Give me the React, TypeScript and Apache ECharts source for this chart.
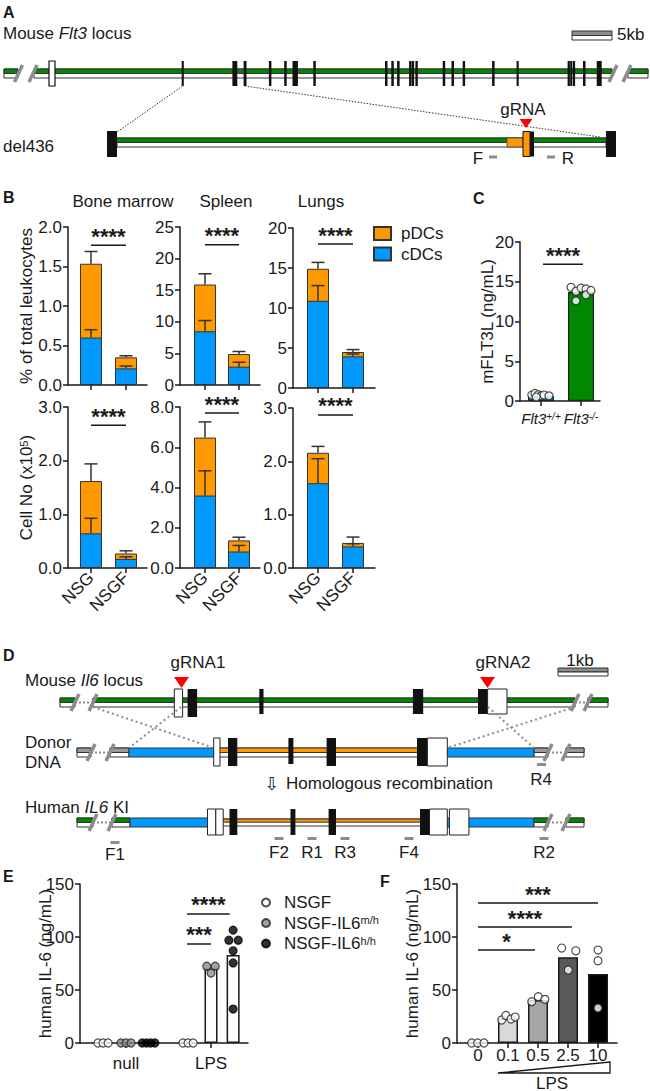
import React, { useEffect, useRef } from 'react';
import * as echarts from 'echarts';

const FONT = '"Liberation Sans", Arial, Helvetica, sans-serif';
const FS = 17;
const INK = '#1a1a1a';
const ORANGE = '#FF9900';
const BLUE = '#0099FF';
const GREEN = '#008800';
const RED = '#FF0000';
const GRAY = '#8c8c8c';

// ---------------- Panel B data ----------------
const bGroups = ['NSG', 'NSGF'];
const bTissues = ['Bone marrow', 'Spleen', 'Lungs'];
// % of total leukocytes (cDCs at bottom, pDCs stacked on top)
const pctBmCdc = [0.6, 0.21];
const pctBmPdc = [0.935, 0.14];
const pctBmCdcErr = [0.1, 0.03];
const pctBmTotErr = [0.155, 0.02];
const pctSpCdc = [8.5, 2.9];
const pctSpPdc = [7.4, 2.0];
const pctSpCdcErr = [1.7, 0.7];
const pctSpTotErr = [1.7, 0.4];
const pctLuCdc = [10.9, 3.95];
const pctLuPdc = [4.0, 0.55];
const pctLuCdcErr = [1.9, 0.3];
const pctLuTotErr = [0.8, 0.3];
// Cell number (x10^5)
const numBmCdc = [0.646, 0.17];
const numBmPdc = [0.974, 0.1];
const numBmCdcErr = [0.28, 0.04];
const numBmTotErr = [0.32, 0.05];
const numSpCdc = [3.6, 0.82];
const numSpPdc = [2.88, 0.55];
const numSpCdcErr = [1.23, 0.3];
const numSpTotErr = [0.78, 0.16];
const numLuCdc = [1.59, 0.405];
const numLuPdc = [0.57, 0.065];
const numLuCdcErr = [0.46, 0.05];
const numLuTotErr = [0.12, 0.11];
const pctYMax = [2.0, 25, 20];
const pctYStep = [0.5, 5, 5];
const pctYDec = [1, 0, 0];
const numYMax = [3.0, 8.0, 3.0];
const numYStep = [1.0, 2.0, 1.0];
const pctSigY = [1.77, 22.2, 18.0];
const numSigY = [2.66, 7.7, 2.87];
const bSigText = ['****'];

// ---------------- Panel C data ----------------
const cGroups = ['{i|Flt3}{s|+/+}', '{i|Flt3}{s|-/-}'];
const cMeans = [0.6, 13.7];
const cWtPts = [[-0.23, 0.75], [-0.15, 0.95], [-0.07, 0.8], [0.0, 0.65], [0.075, 0.75], [0.2, 0.65], [-0.12, 0.5]];
const cKoPts = [[0.75, 14.3], [0.875, 13.8], [0.875, 12.6], [1.0, 14.2], [1.125, 14.1], [1.125, 13.35], [1.25, 13.9]];
const cSigLine = [[0.05, 1.05, 17.2]];
const cSigText = ['****'];

// ---------------- Panel E data ----------------
const eConditions = ['null', 'LPS'];
const eGenotypes = ['NSGF', 'NSGF-IL6m/h', 'NSGF-IL6h/h'];
const eMeansNull = [0, 0, 0];
const eMeansLps = [0, 70, 83];
const eNsgfPts = [[-0.33, 0], [-0.27, 0], [-0.21, 0], [0.67, 0], [0.73, 0], [0.79, 0]];
const eMhPts = [[-0.06, 0], [0, 0], [0.06, 0], [0.95, 72.5], [1.05, 72.5], [1.0, 66]];
const eHhPts = [[0.19, 0], [0.24, 0], [0.29, 0], [0.34, 0], [1.26, 106.5], [1.21, 97], [1.32, 97], [1.26, 87], [1.26, 75.5], [1.26, 32]];
const eSigLines = [[0.718, 1.22, 121.7], [0.718, 1.0, 93.4]];
const eSigText = ['****', '***'];

// ---------------- Panel F data ----------------
const fDoses = ['0', '0.1', '0.5', '2.5', '10'];
const fMeans = [0, 23, 40.5, 81, 65];
const fPts = [[-0.21, 0], [-0.01, 0], [0.2, 0], [0.79, 21.7], [0.93, 26], [1.1, 22.6], [1.24, 24.5], [1.79, 39], [2.01, 43.7], [2.23, 41.2], [2.79, 89.6], [3.26, 87], [3.01, 68.9], [4.0, 87.7], [4.0, 77.6], [4.0, 33]];
const fSigLines = [[0, 4, 132], [0, 3.13, 109.4], [0, 1.9, 87.7]];
const fSigText = ['***', '****', '*'];

// ---------------- Styles / layout ----------------
const fBarColors = ['#ffffff', '#d9d9d9', '#a6a6a6', '#595959', '#000000'];
const eDodge = [-0.28, 0, 0.26];
const bLeft = [68, 180, 293];
const bWidth = [79, 80, 82];
const bXMin = [-0.657, -0.735, -0.714];
const bXMax = [1.6, 1.618, 1.629];
const bTopRow = [227, 227, 228];
const bTopH = [158, 158, 160];
const bBotRow = [407, 407, 408];
const bBotH = [161, 161, 160];

const AXL = { color: INK, width: 1.5 };
const labelStyle = { fontSize: FS, color: INK, fontFamily: FONT };

function xAxisV(gi: number, min: number, max: number, ticks: number[], labels: string[] | null, extra: any = {}) {
  return {
    type: 'value', gridIndex: gi, min, max,
    axisLine: { show: true, onZero: false, lineStyle: AXL },
    axisTick: { show: true, length: 5, customValues: ticks, lineStyle: AXL },
    axisLabel: labels
      ? { show: true, hideOverlap: false, customValues: ticks, formatter: (v: number) => labels[Math.round(v)] ?? '', ...labelStyle, margin: 6, ...extra }
      : { show: false },
    splitLine: { show: false },
  };
}

function yAxisV(gi: number, max: number, step: number, dec: number, name?: string, nameGap?: number) {
  return {
    type: 'value', gridIndex: gi, min: 0, max, interval: step,
    axisLine: { show: true, onZero: false, lineStyle: AXL },
    axisTick: { show: true, length: 5, lineStyle: AXL },
    axisLabel: { ...labelStyle, margin: 6, hideOverlap: false, formatter: (v: number) => v.toFixed(dec) },
    splitLine: { show: false },
    name: name || '', nameLocation: 'middle', nameGap: nameGap || 30, nameMoveOverlap: false,
    nameTextStyle: { ...labelStyle, rich: { sup: { fontSize: 11, fontFamily: FONT, color: INK, verticalAlign: 'top', lineHeight: 11 } } },
  };
}

const errRender = (cap: number) => (params: any, api: any) => {
  const x = api.value(0), y = api.value(1), e = api.value(2);
  const p0 = api.coord([x, y]);
  const p1 = api.coord([x, y + e]);
  const st = { stroke: '#333', lineWidth: 1.5 };
  return {
    type: 'group',
    children: [
      { type: 'line', shape: { x1: p0[0], y1: p0[1], x2: p1[0], y2: p1[1] }, style: st },
      { type: 'line', shape: { x1: p1[0] - cap / 2, y1: p1[1], x2: p1[0] + cap / 2, y2: p1[1] }, style: st },
    ],
  };
};

const sigRender = (texts: string[]) => (params: any, api: any) => {
  const x1 = api.value(0), x2 = api.value(1), y = api.value(2);
  const a = api.coord([x1, y]);
  const b = api.coord([x2, y]);
  return {
    type: 'group',
    children: [
      { type: 'line', shape: { x1: a[0], y1: a[1], x2: b[0], y2: b[1] }, style: { stroke: INK, lineWidth: 1.5 } },
      {
        type: 'text', x: (a[0] + b[0]) / 2, y: a[1] - 9,
        style: { text: texts[params.dataIndex] || texts[0], fill: INK, font: `bold 22px ${FONT}`, align: 'center', verticalAlign: 'middle', textAlign: 'center', textVerticalAlign: 'middle' },
      },
    ],
  };
};

// ---------------- graphic helpers ----------------
function txt(x: number, y: number, text: string, o: any = {}) {
  return { type: 'text', x, y, style: { text, fill: INK, font: `${FS}px ${FONT}`, align: 'left', verticalAlign: 'middle', ...o } };
}
function rect(x: number, y: number, w: number, h: number, fill: string, stroke?: string, lw = 1) {
  return { type: 'rect', shape: { x, y, width: w, height: h }, style: { fill, stroke: stroke || null, lineWidth: lw } };
}
function ln(x1: number, y1: number, x2: number, y2: number, stroke: string, lw: number, dash?: number[]) {
  return { type: 'line', shape: { x1, y1, x2, y2 }, style: { stroke, lineWidth: lw, lineDash: dash || null } };
}
function tri(cx: number, y: number, w: number, h: number) {
  return { type: 'polygon', shape: { points: [[cx - w / 2, y], [cx + w / 2, y], [cx, y + h]] }, style: { fill: RED } };
}
function strand(els: any[], x1: number, x2: number, y: number, h: number, top: string, frac = 0.5) {
  els.push(rect(x1, y, x2 - x1, h, '#ffffff', '#333'));
  els.push(rect(x1, y, x2 - x1, h * frac, top, '#333'));
}
function slash(els: any[], x: number, y: number, h: number) {
  els.push(ln(x - 4, y + h + 4, x + 4, y - 4, GRAY, 3.5));
}
function italicRich() {
  return { i: { fontStyle: 'italic', fontSize: FS, fontFamily: FONT, fill: INK } };
}

function buildGraphics() {
  const g: any[] = [];
  // ---- Panel A ----
  g.push(txt(3, 12, 'A', { font: `bold 16px ${FONT}` }));
  g.push(txt(3, 33, 'Mouse {i|Flt3} locus', { rich: italicRich() }));
  g.push(rect(572, 31, 40, 4.5, GRAY, '#333'));
  g.push(rect(572, 35.5, 40, 4.5, '#ffffff', '#333'));
  g.push(txt(617, 34, '5kb'));
  strand(g, 4, 18, 69, 9, GREEN);
  strand(g, 34, 612, 69, 9, GREEN);
  strand(g, 628, 648, 69, 9, GREEN);
  g.push(rect(49, 61, 6, 25, '#ffffff', '#111', 1.2));
  const aExons = [[181.7, 2.1], [232.4, 4.9], [243.6, 2.9], [268.9, 2.5], [284.2, 2.5], [292.5, 5.4], [313.3, 2.5], [385, 2.5], [391.3, 2.5], [397.1, 2.5], [409.1, 2.3], [411.6, 2.5], [415.4, 2.4], [442.7, 2.5], [451.5, 2.5], [462.7, 2.4], [492.1, 2.5], [516.6, 2.1], [567.6, 2.3], [570.2, 1.8], [572.6, 2.5], [583, 2.5], [596.7, 5]];
  aExons.forEach(([x, w]) => g.push(rect(x, 61, w, 25, '#111')));
  slash(g, 18.5, 69, 9); slash(g, 33, 69, 9); slash(g, 613, 69, 9); slash(g, 627, 69, 9);
  g.push(ln(182.6, 86, 117, 132, '#333', 1, [1.5, 1.5]));
  g.push(ln(244.8, 86, 600, 137, '#333', 1, [1.5, 1.5]));
  strand(g, 117, 606, 138, 9, GREEN);
  g.push(rect(507, 138, 16, 9, ORANGE, '#444', 0.8));
  g.push(rect(107, 131, 10, 26, '#111'));
  g.push(rect(606, 131, 10, 26, '#111'));
  g.push(rect(523, 131.5, 7, 25, ORANGE, '#111', 1));
  g.push(rect(530, 131.5, 4, 25, '#111'));
  g.push(tri(526, 119, 13, 9));
  g.push(txt(523, 109, 'gRNA', { align: 'center' }));
  g.push(txt(3, 146, 'del436'));
  g.push(txt(478, 158, 'F', { align: 'center' }));
  g.push(rect(489, 155.5, 8, 3, GRAY));
  g.push(rect(547, 155.5, 8, 3, GRAY));
  g.push(txt(568, 158, 'R', { align: 'center' }));

  // ---- Panel B / C titles ----
  g.push(txt(3, 197, 'B', { font: `bold 16px ${FONT}` }));
  g.push(txt(123, 201, bTissues[0], { align: 'center' }));
  g.push(txt(226, 201, bTissues[1], { align: 'center' }));
  g.push(txt(321, 201, bTissues[2], { align: 'center' }));
  g.push(txt(473, 198, 'C', { font: `bold 16px ${FONT}` }));

  // ---- Panel D ----
  g.push(txt(3, 655, 'D', { font: `bold 16px ${FONT}` }));
  g.push(txt(198, 662, 'gRNA1', { align: 'center' }));
  g.push(txt(503, 662, 'gRNA2', { align: 'center' }));
  g.push(txt(580, 660, '1kb', { align: 'center' }));
  g.push(rect(558, 668, 50, 4, GRAY, '#333'));
  g.push(rect(558, 672, 50, 4, '#ffffff', '#333'));
  g.push(txt(25, 680, 'Mouse {i|Il6} locus', { rich: italicRich() }));
  // top locus
  strand(g, 60, 75, 698, 9, GREEN);
  strand(g, 93, 575, 698, 9, GREEN);
  strand(g, 588, 608, 698, 9, GREEN);
  g.push(ln(75, 702.5, 93, 702.5, GRAY, 2, [2, 2]));
  g.push(ln(575, 702.5, 588, 702.5, GRAY, 2, [2, 2]));
  g.push(rect(174.3, 689, 8.3, 28, '#ffffff', '#222'));
  g.push(rect(187.6, 689, 9.5, 28, '#111'));
  g.push(rect(259.3, 689, 4.2, 25, '#111'));
  g.push(rect(412.9, 689, 10.3, 25, '#111'));
  g.push(rect(478, 689, 9.6, 25, '#111'));
  g.push(rect(487.6, 689, 19.4, 25, '#ffffff', '#222'));
  slash(g, 75, 698, 9); slash(g, 93, 698, 9); slash(g, 575, 698, 9); slash(g, 588, 698, 9);
  g.push(tri(181.5, 677, 15, 11));
  g.push(tri(487.5, 677, 15, 11));
  // donor
  g.push(txt(25, 742, 'Donor'));
  g.push(txt(25, 762, 'DNA'));
  strand(g, 77, 91, 748, 9, '#9a9a9a');
  strand(g, 110, 129, 748, 9, '#9a9a9a');
  g.push(ln(91, 752.5, 110, 752.5, GRAY, 2, [2, 2]));
  g.push(rect(129, 748, 85, 9, BLUE, '#333'));
  strand(g, 214, 447, 748, 9, ORANGE);
  g.push(rect(447, 748, 87, 9, BLUE, '#333'));
  strand(g, 534, 548, 748, 9, '#9a9a9a');
  strand(g, 566, 584, 748, 9, '#9a9a9a');
  g.push(ln(548, 752.5, 566, 752.5, GRAY, 2, [2, 2]));
  g.push(rect(213.7, 738, 6.3, 28, '#ffffff', '#222'));
  g.push(rect(228, 738, 9.3, 28, '#111'));
  g.push(rect(288.4, 738, 5, 26, '#111'));
  g.push(rect(326.6, 738, 9.4, 28, '#111'));
  g.push(rect(417, 738, 10.4, 28, '#111'));
  g.push(rect(427.4, 738, 19.9, 28, '#ffffff', '#222'));
  slash(g, 91, 748, 9); slash(g, 110, 748, 9); slash(g, 548, 748, 9); slash(g, 566, 748, 9);
  // crossover lines
  g.push(ln(93, 707, 214, 748, GRAY, 2, [2, 3]));
  g.push(ln(181, 707, 129, 748, GRAY, 2, [2, 3]));
  g.push(ln(488, 707, 534, 748, GRAY, 2, [2, 3]));
  g.push(ln(575, 707, 447, 748, GRAY, 2, [2, 3]));
  g.push(rect(537, 763, 9, 3, GRAY));
  g.push(txt(541, 779, 'R4', { align: 'center' }));
  g.push(txt(272, 783, '⇩', { align: 'center', font: `18px "DejaVu Sans", sans-serif` }));
  g.push(txt(286, 783, 'Homologous recombination'));
  // KI
  g.push(txt(25, 807, 'Human {i|IL6} KI', { rich: italicRich() }));
  strand(g, 77, 93, 818, 9, GREEN);
  strand(g, 112, 130, 818, 9, GREEN);
  g.push(ln(93, 822.5, 112, 822.5, GRAY, 2, [2, 2]));
  g.push(rect(130, 818, 87, 9, BLUE, '#333'));
  strand(g, 217, 447, 819, 7, ORANGE, 0.45);
  g.push(rect(447, 818, 87, 9, BLUE, '#333'));
  strand(g, 534, 548, 818, 9, GREEN);
  strand(g, 566, 584, 818, 9, GREEN);
  g.push(ln(548, 822.5, 566, 822.5, GRAY, 2, [2, 2]));
  g.push(rect(207.5, 809, 8.3, 26, '#ffffff', '#222'));
  g.push(rect(215.8, 809, 7.4, 26, '#ffffff', '#222'));
  g.push(rect(229.5, 809, 7.8, 26, '#111'));
  g.push(rect(290.5, 809, 4.9, 26, '#111'));
  g.push(rect(328.6, 809, 7.4, 26, '#111'));
  g.push(rect(420, 809, 9.5, 26, '#111'));
  g.push(rect(429.5, 809, 17.8, 26, '#ffffff', '#222'));
  g.push(rect(449.4, 809, 19.5, 26, '#ffffff', '#222'));
  slash(g, 93, 818, 9); slash(g, 112, 818, 9); slash(g, 548, 818, 9); slash(g, 566, 818, 9);
  const primers: [string, number, number, number][] = [['F1', 115, 841, 854], ['F2', 279, 837, 852], ['R1', 312, 837, 852], ['R3', 345, 837, 852], ['F4', 409, 837, 852], ['R2', 544, 837, 852]];
  primers.forEach(([t, x, yd, yt]) => {
    g.push(rect(x - 4.5, yd, 9, 3, GRAY));
    g.push(txt(x, yt, t, { align: 'center' }));
  });

  // ---- Panel E / F labels ----
  g.push(txt(3, 876, 'E', { font: `bold 16px ${FONT}` }));
  g.push(txt(380, 881, 'F', { font: `bold 16px ${FONT}` }));
  g.push({ type: 'polygon', shape: { points: [[498, 1073], [610, 1062], [610, 1073]] }, style: { fill: '#ffffff', stroke: INK, lineWidth: 1.3 } });
  g.push(txt(552, 1083, 'LPS', { align: 'center' }));
  return g;
}

function buildOption() {
  const grids: any[] = [];
  const xAxes: any[] = [];
  const yAxes: any[] = [];
  const series: any[] = [];

  const pctCdc = [pctBmCdc, pctSpCdc, pctLuCdc];
  const pctPdc = [pctBmPdc, pctSpPdc, pctLuPdc];
  const pctCdcErr = [pctBmCdcErr, pctSpCdcErr, pctLuCdcErr];
  const pctTotErr = [pctBmTotErr, pctSpTotErr, pctLuTotErr];
  const numCdc = [numBmCdc, numSpCdc, numLuCdc];
  const numPdc = [numBmPdc, numSpPdc, numLuPdc];
  const numCdcErr = [numBmCdcErr, numSpCdcErr, numLuCdcErr];
  const numTotErr = [numBmTotErr, numSpTotErr, numLuTotErr];

  const addB = (gi: number, t: number, top: number, h: number, cdc: number[], pdc: number[], cErr: number[], tErr: number[], yMax: number, yStep: number, dec: number, sigY: number, name: string | undefined, showLabels: boolean) => {
    grids.push({ left: bLeft[t], top, width: bWidth[t], height: h, containLabel: false, outerBoundsMode: 'none' });
    xAxes.push(xAxisV(gi, bXMin[t], bXMax[t], [0, 1], showLabels ? bGroups : null, { rotate: 45, margin: 7 }));
    yAxes.push(yAxisV(gi, yMax, yStep, dec, name, 33));
    const bar = { color: BLUE, borderColor: '#333', borderWidth: 1 };
    // pDCs sit on top of cDCs: the orange column spans cDC + pDC, the blue column is drawn over its lower part
    const totals = cdc.map((v, k) => v + pdc[k]);
    series.push({ type: 'bar', name: 'pDCs', xAxisIndex: gi, yAxisIndex: gi, barWidth: 22, barGap: '-100%', data: totals.map((v, k) => [k, v]), itemStyle: { ...bar, color: ORANGE } });
    series.push({ type: 'bar', name: 'cDCs', xAxisIndex: gi, yAxisIndex: gi, barWidth: 22, barGap: '-100%', data: cdc.map((v, k) => [k, v]), itemStyle: bar });
    const errData: number[][] = [];
    cdc.forEach((v, k) => {
      errData.push([k, v, cErr[k]]);
      errData.push([k, totals[k], tErr[k]]);
    });
    series.push({ type: 'custom', xAxisIndex: gi, yAxisIndex: gi, clip: false, z: 5, renderItem: errRender(13), data: errData });
    series.push({ type: 'custom', xAxisIndex: gi, yAxisIndex: gi, clip: false, z: 5, renderItem: sigRender(bSigText), data: [[0, 1, sigY]] });
  };

  for (let t = 0; t < 3; t++) {
    addB(t, t, bTopRow[t], bTopH[t], pctCdc[t], pctPdc[t], pctCdcErr[t], pctTotErr[t], pctYMax[t], pctYStep[t], pctYDec[t], pctSigY[t], t === 0 ? '% of total leukocytes' : undefined, false);
  }
  for (let t = 0; t < 3; t++) {
    addB(3 + t, t, bBotRow[t], bBotH[t], numCdc[t], numPdc[t], numCdcErr[t], numTotErr[t], numYMax[t], numYStep[t], 1, numSigY[t], t === 0 ? 'Cell No (x10{sup|5})' : undefined, true);
  }

  // ---- Panel C (grid 6) ----
  grids.push({ left: 520, top: 242, width: 80, height: 159, containLabel: false, outerBoundsMode: 'none' });
  xAxes.push(xAxisV(6, -0.525, 1.475, [0, 1], cGroups, {
    margin: 10,
    rich: {
      i: { fontStyle: 'italic', fontSize: 15, fontFamily: FONT, color: INK },
      s: { fontStyle: 'italic', fontSize: 10, fontFamily: FONT, color: INK, verticalAlign: 'top', lineHeight: 10 },
    },
  }));
  yAxes.push(yAxisV(6, 20, 5, 0, 'mFLT3L (ng/mL)', 24));
  series.push({
    type: 'bar', name: 'mFLT3L', xAxisIndex: 6, yAxisIndex: 6, barWidth: 26,
    data: cMeans.map((v, k) => ({ value: [k, v], itemStyle: { color: k === 0 ? BLUE : GREEN } })),
    itemStyle: { borderColor: '#222', borderWidth: 1.2 },
  });
  const ptStyle = { color: '#ffffff', borderColor: '#222', borderWidth: 1.2 };
  series.push({ type: 'scatter', name: 'Flt3 wt', xAxisIndex: 6, yAxisIndex: 6, symbolSize: 8, data: cWtPts, itemStyle: ptStyle, z: 4 });
  series.push({ type: 'scatter', name: 'Flt3 ko', xAxisIndex: 6, yAxisIndex: 6, symbolSize: 8, data: cKoPts, itemStyle: ptStyle, z: 4 });
  series.push({ type: 'custom', xAxisIndex: 6, yAxisIndex: 6, clip: false, z: 5, renderItem: sigRender(cSigText), data: cSigLine });

  // ---- Panel E (grid 7) ----
  grids.push({ left: 80, top: 884, width: 168, height: 159, containLabel: false, outerBoundsMode: 'none' });
  xAxes.push(xAxisV(7, -0.541, 1.435, [0, 1], eConditions, { margin: 12 }));
  yAxes.push(yAxisV(7, 150, 50, 0, 'human IL-6 (ng/mL)', 26));
  const eBars: number[][] = [];
  eMeansNull.forEach((v, k) => eBars.push([0 + eDodge[k], v]));
  eMeansLps.forEach((v, k) => eBars.push([1 + eDodge[k], v]));
  series.push({ type: 'bar', name: 'IL-6 mean', xAxisIndex: 7, yAxisIndex: 7, barWidth: 13, data: eBars, itemStyle: { color: '#ffffff', borderColor: INK, borderWidth: 1.5 } });
  series.push({ type: 'scatter', name: eGenotypes[0], xAxisIndex: 7, yAxisIndex: 7, symbolSize: 8, data: eNsgfPts, itemStyle: { color: '#ffffff', borderColor: '#222', borderWidth: 1.2 }, z: 4 });
  series.push({ type: 'scatter', name: eGenotypes[1], xAxisIndex: 7, yAxisIndex: 7, symbolSize: 8, data: eMhPts, itemStyle: { color: '#8c8c8c', borderColor: '#222', borderWidth: 1.2 }, z: 4 });
  series.push({ type: 'scatter', name: eGenotypes[2], xAxisIndex: 7, yAxisIndex: 7, symbolSize: 8, data: eHhPts, itemStyle: { color: '#000000', borderColor: '#000', borderWidth: 1.2 }, z: 4 });
  series.push({ type: 'custom', xAxisIndex: 7, yAxisIndex: 7, clip: false, z: 5, renderItem: sigRender(eSigText), data: eSigLines });

  // ---- Panel F (grid 8) ----
  grids.push({ left: 457, top: 884, width: 160, height: 159, containLabel: false, outerBoundsMode: 'none' });
  xAxes.push(xAxisV(8, -0.7, 4.633, [0, 1, 2, 3, 4], fDoses, { margin: 4 }));
  yAxes.push(yAxisV(8, 150, 50, 0, 'human IL-6 (ng/mL)', 36));
  series.push({
    type: 'bar', name: 'LPS dose', xAxisIndex: 8, yAxisIndex: 8, barWidth: 20,
    data: fMeans.map((v, k) => ({ value: [k, v], itemStyle: { color: fBarColors[k] } })),
    itemStyle: { borderColor: INK, borderWidth: 1.5 },
  });
  series.push({ type: 'scatter', name: 'LPS points', xAxisIndex: 8, yAxisIndex: 8, symbolSize: 8, data: fPts, itemStyle: { color: '#ffffff', borderColor: '#222', borderWidth: 1.2 }, z: 4 });
  series.push({ type: 'custom', xAxisIndex: 8, yAxisIndex: 8, clip: false, z: 5, renderItem: sigRender(fSigText), data: fSigLines });

  const supFmt = (name: string) => name.replace(/IL6(.+)$/, 'IL6{sup|$1}');

  return {
    animation: false,
    backgroundColor: '#ffffff',
    textStyle: { fontFamily: FONT },
    grid: grids,
    xAxis: xAxes,
    yAxis: yAxes,
    legend: [
      {
        data: ['pDCs', 'cDCs'], orient: 'vertical', left: 373, top: 225, itemWidth: 17, itemHeight: 13, itemGap: 3.5,
        icon: 'rect', selectedMode: false, padding: 0,
        textStyle: { ...labelStyle, padding: [0, 0, 0, 5] },
      },
      {
        data: eGenotypes, orient: 'vertical', left: 261, top: 894, itemWidth: 8, itemHeight: 8, itemGap: 3.5,
        icon: 'circle', selectedMode: false, padding: 0,
        formatter: supFmt,
        textStyle: { ...labelStyle, padding: [0, 0, 0, 9], rich: { sup: { fontSize: 11, fontFamily: FONT, color: INK, verticalAlign: 'top', lineHeight: 11 } } },
      },
    ],
    graphic: { elements: buildGraphics() },
    series,
  };
}

export default function App() {
  const ref = useRef<HTMLDivElement>(null);
  useEffect(() => {
    if (!ref.current) return;
    const chart = echarts.init(ref.current, null, { renderer: 'svg' });
    chart.setOption(buildOption() as any);
    return () => chart.dispose();
  }, []);
  return <div ref={ref} style={{ position: 'absolute', left: 0, top: 0, width: 650, height: 1091, background: '#fff' }} />;
}
